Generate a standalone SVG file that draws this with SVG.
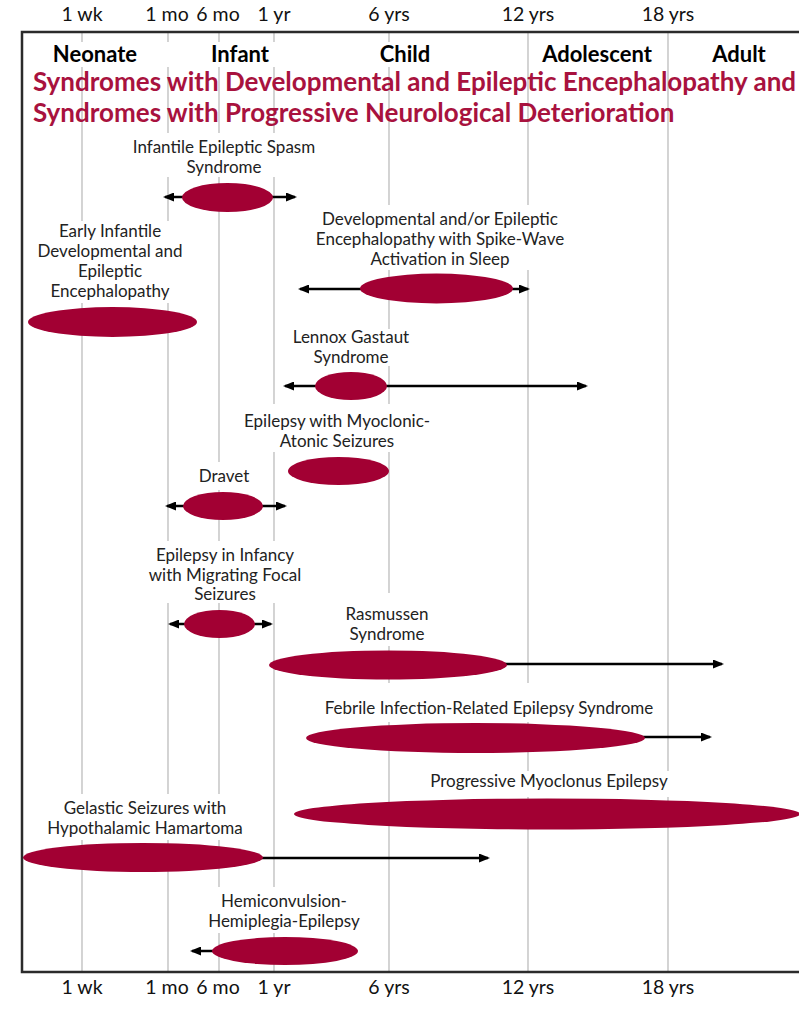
<svg xmlns="http://www.w3.org/2000/svg" width="799" height="1010" viewBox="0 0 799 1010">
<defs>
<style>
.grid{stroke:#c9c9c9;stroke-width:1.6}
.frame{stroke:#2b2b2b;stroke-width:2.5;fill:none}
.ax{font-family:Lato,"Liberation Sans",sans-serif;font-size:19.5px;fill:#111;text-anchor:middle}
.ph{font-family:Lato,"Liberation Sans",sans-serif;font-weight:bold;font-size:22px;fill:#000;text-anchor:middle}
.ttl{font-family:Lato,"Liberation Sans",sans-serif;font-weight:bold;font-size:26px;fill:#a8123e}
.lbl{font-family:Lato,"Liberation Sans",sans-serif;font-size:17px;fill:#222;text-anchor:middle}
.bg{fill:#fff}
.el{fill:#a20033}
.arr{stroke:#000;stroke-width:2.4;fill:none}
</style>
<marker id="ah" viewBox="0 0 11 9" refX="9" refY="4.5" markerWidth="11" markerHeight="9" markerUnits="userSpaceOnUse" orient="auto-start-reverse"><path d="M0,0L11,4.5L0,9z" fill="#000"/></marker>
</defs>
<rect width="799" height="1010" fill="#fff"/>
<g id="axis-top">
<text class="ax" x="82" y="21">1 wk</text>
<text class="ax" x="167" y="21">1 mo</text>
<text class="ax" x="218" y="21">6 mo</text>
<text class="ax" x="274" y="21">1 yr</text>
<text class="ax" x="389" y="21">6 yrs</text>
<text class="ax" x="528" y="21">12 yrs</text>
<text class="ax" x="668" y="21">18 yrs</text>
</g>
<g id="axis-bottom">
<text class="ax" x="82" y="994">1 wk</text>
<text class="ax" x="167" y="994">1 mo</text>
<text class="ax" x="218" y="994">6 mo</text>
<text class="ax" x="274" y="994">1 yr</text>
<text class="ax" x="389" y="994">6 yrs</text>
<text class="ax" x="528" y="994">12 yrs</text>
<text class="ax" x="668" y="994">18 yrs</text>
</g>
<g id="gridlines">
<line class="grid" x1="82" y1="33" x2="82" y2="971"/>
<line class="grid" x1="168" y1="33" x2="168" y2="971"/>
<line class="grid" x1="219" y1="33" x2="219" y2="971"/>
<line class="grid" x1="274" y1="33" x2="274" y2="971"/>
<line class="grid" x1="389" y1="33" x2="389" y2="971"/>
<line class="grid" x1="528" y1="33" x2="528" y2="971"/>
<line class="grid" x1="668" y1="33" x2="668" y2="971"/>
</g>
<g id="frame">
<path class="frame" d="M799,32H22V972H799"/>
</g>
<g id="phases">
<rect class="bg" x="24" y="42" width="495" height="25"/>
<text class="ph" x="95" y="61.5">Neonate</text>
<text class="ph" x="240" y="61.5">Infant</text>
<text class="ph" x="405" y="61.5">Child</text>
<text class="ph" x="597" y="61.5">Adolescent</text>
<text class="ph" x="739" y="61.5">Adult</text>
</g>
<g id="title">
<text class="ttl" x="33" y="91">Syndromes with Developmental and Epileptic Encephalopathy and</text>
<text class="ttl" x="33" y="122">Syndromes with Progressive Neurological Deterioration</text>
</g>
<g id="label-backgrounds">
<rect class="bg" x="125" y="133" width="200" height="44"/>
<rect class="bg" x="28" y="221" width="169" height="82"/>
<rect class="bg" x="310" y="205" width="265" height="65"/>
<rect class="bg" x="285" y="329" width="130" height="37"/>
<rect class="bg" x="240" y="404" width="195" height="48"/>
<rect class="bg" x="195" y="462" width="55" height="28"/>
<rect class="bg" x="150" y="541" width="150" height="62"/>
<rect class="bg" x="340" y="593" width="95" height="53"/>
<rect class="bg" x="320" y="683" width="340" height="39"/>
<rect class="bg" x="425" y="771" width="250" height="26"/>
<rect class="bg" x="45" y="794" width="205" height="46"/>
<rect class="bg" x="205" y="887" width="157" height="46"/>
</g>
<g id="connectors">
<line class="arr" x1="165" y1="197" x2="295" y2="197" marker-start="url(#ah)" marker-end="url(#ah)"/>
<line class="arr" x1="300" y1="289" x2="528" y2="289" marker-start="url(#ah)" marker-end="url(#ah)"/>
<line class="arr" x1="285" y1="386" x2="586" y2="386" marker-start="url(#ah)" marker-end="url(#ah)"/>
<line class="arr" x1="167" y1="506" x2="285" y2="506" marker-start="url(#ah)" marker-end="url(#ah)"/>
<line class="arr" x1="170" y1="624" x2="271" y2="624" marker-start="url(#ah)" marker-end="url(#ah)"/>
<line class="arr" x1="450" y1="664" x2="722" y2="664" marker-end="url(#ah)"/>
<line class="arr" x1="600" y1="737" x2="710" y2="737" marker-end="url(#ah)"/>
<line class="arr" x1="220" y1="858" x2="488" y2="858" marker-end="url(#ah)"/>
<line class="arr" x1="260" y1="951" x2="192" y2="951" marker-end="url(#ah)"/>
</g>
<g id="n-infantile-spasm">
<ellipse class="el" cx="227.5" cy="197.5" rx="45.5" ry="14.5"/>
<text class="lbl" x="224" y="153">Infantile Epileptic Spasm</text>
<text class="lbl" x="224" y="173">Syndrome</text>
</g>
<g id="n-early-infantile">
<ellipse class="el" cx="112.5" cy="322" rx="84.5" ry="15"/>
<text class="lbl" x="110" y="237">Early Infantile</text>
<text class="lbl" x="110" y="257">Developmental and</text>
<text class="lbl" x="110" y="277">Epileptic</text>
<text class="lbl" x="110" y="297">Encephalopathy</text>
</g>
<g id="n-dee-swas">
<ellipse class="el" cx="436.5" cy="288.5" rx="76.5" ry="15"/>
<text class="lbl" x="440" y="225">Developmental and/or Epileptic</text>
<text class="lbl" x="440" y="245">Encephalopathy with Spike-Wave</text>
<text class="lbl" x="440" y="265">Activation in Sleep</text>
</g>
<g id="n-lennox-gastaut">
<ellipse class="el" cx="351" cy="386" rx="36" ry="14"/>
<text class="lbl" x="351" y="343">Lennox Gastaut</text>
<text class="lbl" x="351" y="363">Syndrome</text>
</g>
<g id="n-myoclonic-atonic">
<ellipse class="el" cx="338.5" cy="471" rx="50.5" ry="14"/>
<text class="lbl" x="337" y="427">Epilepsy with Myoclonic-</text>
<text class="lbl" x="337" y="447">Atonic Seizures</text>
</g>
<g id="n-dravet">
<ellipse class="el" cx="223" cy="506" rx="40" ry="14"/>
<text class="lbl" x="224" y="482">Dravet</text>
</g>
<g id="n-eimfs">
<ellipse class="el" cx="219.5" cy="624" rx="35.5" ry="14"/>
<text class="lbl" x="225" y="561">Epilepsy in Infancy</text>
<text class="lbl" x="225" y="581">with Migrating Focal</text>
<text class="lbl" x="225" y="600">Seizures</text>
</g>
<g id="n-rasmussen">
<ellipse class="el" cx="388" cy="665" rx="119" ry="14.5"/>
<text class="lbl" x="387" y="620">Rasmussen</text>
<text class="lbl" x="387" y="640">Syndrome</text>
</g>
<g id="n-fires">
<ellipse class="el" cx="475.5" cy="738" rx="169.5" ry="15"/>
<text class="lbl" x="489" y="714">Febrile Infection-Related Epilepsy Syndrome</text>
</g>
<g id="n-pme">
<ellipse class="el" cx="547" cy="814" rx="253" ry="15.5"/>
<text class="lbl" x="549" y="787">Progressive Myoclonus Epilepsy</text>
</g>
<g id="n-gelastic">
<ellipse class="el" cx="143" cy="857.5" rx="120" ry="14.5"/>
<text class="lbl" x="145" y="814">Gelastic Seizures with</text>
<text class="lbl" x="145" y="834">Hypothalamic Hamartoma</text>
</g>
<g id="n-hhe">
<ellipse class="el" cx="285" cy="951" rx="73" ry="14"/>
<text class="lbl" x="284" y="907">Hemiconvulsion-</text>
<text class="lbl" x="284" y="927">Hemiplegia-Epilepsy</text>
</g>
</svg>
